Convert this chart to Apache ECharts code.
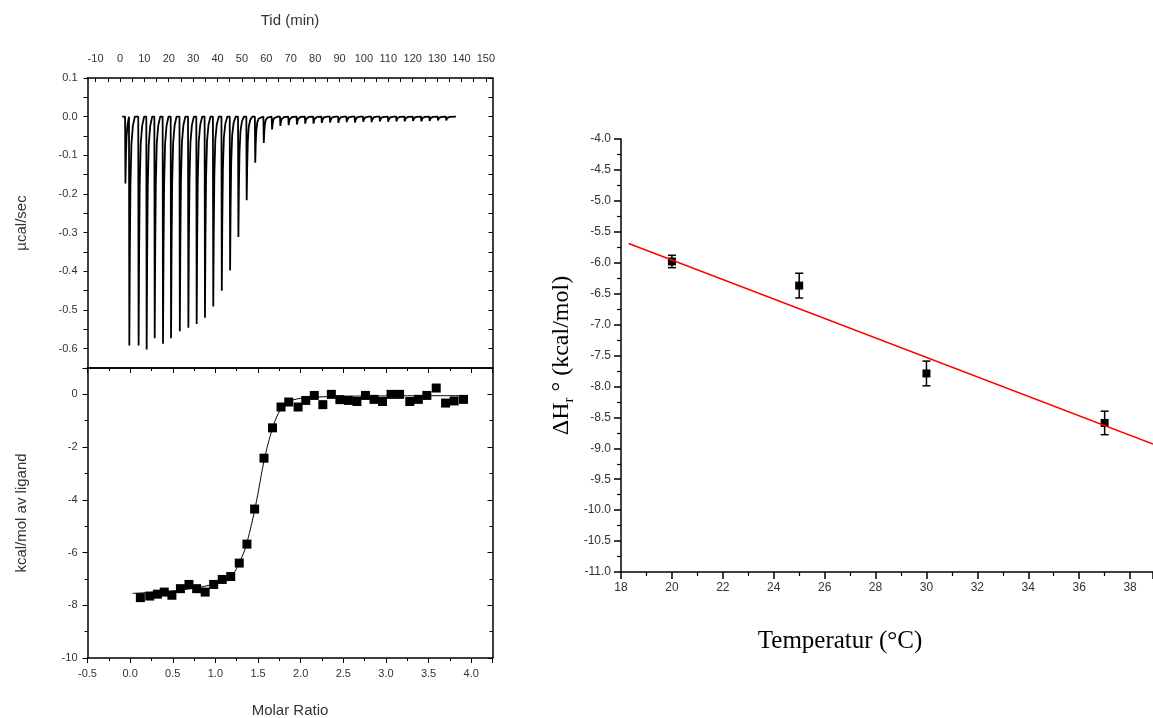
<!DOCTYPE html>
<html>
<head>
<meta charset="utf-8">
<script src="https://cdn.jsdelivr.net/npm/echarts@6/dist/echarts.min.js"></script>
<style>
  html, body { margin: 0; padding: 0; background: #fff; }
  #chart { width: 1153px; height: 718px; }
</style>
</head>
<body>
<div id="chart"></div>
<script>
// ---- raw ITC thermogram (top left) ----
const injTime = [2.1, 3.7, 7.5, 10.8, 14.1, 17.5, 20.8, 24.4, 27.9, 31.3, 34.7, 38.1, 41.6, 45.0, 48.4, 51.8, 55.3, 58.8, 62.2, 65.6,
  69.0, 72.4, 75.8, 79.2, 82.6, 86.0, 89.4, 92.8, 96.2, 99.6, 103.0, 106.4, 109.8, 113.2, 116.6, 120.0, 123.4, 126.8, 130.2, 133.6];
const peakDepth = [-0.173, -0.592, -0.592, -0.602, -0.573, -0.587, -0.573, -0.555, -0.546, -0.536, -0.520, -0.491, -0.450, -0.398, -0.311, -0.216, -0.119, -0.068, -0.033, -0.024,
  -0.022, -0.020, -0.018, -0.018, -0.016, -0.015, -0.016, -0.014, -0.015, -0.013, -0.014, -0.012, -0.013, -0.012, -0.012, -0.011, -0.012, -0.011, -0.010, -0.010];
// shape of one peak: minutes after injection / fraction of the peak depth
const decayOffset = [0, 0.15, 0.35, 0.6, 1.0, 1.6];
const decayFrac = [0, 1, 0.6, 0.3, 0.12, 0.04];
const traceStart = 0.9, traceEnd = 137.7;

// ---- integrated heats (bottom left) ----
const molarRatio = [0.12, 0.23, 0.32, 0.40, 0.49, 0.59, 0.69, 0.78, 0.88, 0.98, 1.08, 1.18, 1.28, 1.37, 1.46, 1.57, 1.67, 1.77, 1.86, 1.97,
  2.06, 2.16, 2.26, 2.36, 2.46, 2.56, 2.66, 2.76, 2.86, 2.96, 3.06, 3.16, 3.28, 3.38, 3.48, 3.59, 3.70, 3.80, 3.91];
const heat = [-7.71, -7.65, -7.58, -7.50, -7.62, -7.37, -7.21, -7.37, -7.50, -7.21, -7.02, -6.91, -6.40, -5.68, -4.35, -2.42, -1.27, -0.48, -0.29, -0.48,
  -0.23, -0.04, -0.39, 0.0, -0.20, -0.23, -0.27, -0.04, -0.19, -0.27, 0.0, 0.0, -0.27, -0.19, -0.04, 0.24, -0.33, -0.25, -0.19];
const fitRatio = [0.03, 0.2, 0.4, 0.6, 0.8, 1.0, 1.1, 1.2, 1.25, 1.3, 1.35, 1.4, 1.45, 1.5, 1.55, 1.6, 1.65, 1.7, 1.75, 1.8, 1.85, 1.9, 2.0, 2.2, 2.5, 3.0, 3.5, 3.93];
const fitHeat = [-7.55, -7.52, -7.48, -7.42, -7.33, -7.18, -7.05, -6.85, -6.6, -6.25, -5.85, -5.25, -4.55, -3.75, -2.85, -2.1, -1.5, -1.0, -0.65, -0.42, -0.3, -0.22, -0.15, -0.1, -0.07, -0.06, -0.05, -0.05];

// ---- enthalpy vs temperature (right) ----
const temps = [20, 25, 30, 37];
const dH = [-5.98, -6.37, -7.79, -8.59];
const dHerr = [0.1, 0.2, 0.2, 0.19];
const lineT = [18.3, 38.9];
const lineDH = [-5.69, -8.93];

const timeLabels = [-10, 0, 10, 20, 30, 40, 50, 60, 70, 80, 90, 100, 110, 120, 130, 140, 150];
const timeTicks = [-10, -5, 0, 5, 10, 15, 20, 25, 30, 35, 40, 45, 50, 55, 60, 65, 70, 75, 80, 85, 90, 95, 100, 105, 110, 115, 120, 125, 130, 135, 140, 145, 150];

// build the thermogram polyline
let trace = [[traceStart, 0]];
injTime.forEach((t, i) => {
  const next = i < injTime.length - 1 ? injTime[i + 1] : traceEnd;
  decayOffset.forEach((off, k) => {
    if (t + off < next) trace.push([t + off, peakDepth[i] * decayFrac[k]]);
  });
  if (t + 2.4 < next) trace.push([t + 2.4, 0]);
});
trace.push([traceEnd, 0]);

const labelFont = { color: '#333', fontSize: 11, fontFamily: 'Liberation Sans, Arial' };
const nameFont = { color: '#333', fontSize: 15, fontFamily: 'Liberation Sans, Arial' };
const blackLine = { show: true, onZero: false, lineStyle: { color: '#000', width: 1.5 } };

function frameAxis(extra) {
  return Object.assign({
    type: 'value', axisLine: blackLine, splitLine: { show: false },
    axisTick: { show: false }, axisLabel: { show: false }
  }, extra);
}

let chart = echarts.init(document.getElementById('chart'));
chart.setOption({
  animation: false,
  backgroundColor: '#fff',
  grid: [
    { left: 87.5, top: 78, width: 405, height: 290, outerBoundsMode: 'none' },
    { left: 87.5, top: 368, width: 405, height: 290, outerBoundsMode: 'none' },
    { left: 621, top: 139, width: 532, height: 433, outerBoundsMode: 'none' }
  ],
  xAxis: [
    // 0: time axis on top of upper panel
    frameAxis({
      gridIndex: 0, position: 'top', min: -13.3, max: 152.7,
      name: 'Tid (min)', nameLocation: 'middle', nameGap: 50, nameTextStyle: nameFont,
      axisTick: { show: true, inside: true, length: 4, lineStyle: { color: '#000' }, customValues: timeTicks },
      axisLabel: Object.assign({ show: true, margin: 14, customValues: timeLabels }, labelFont)
    }),
    // 1: bottom edge of upper panel
    frameAxis({ gridIndex: 0, position: 'bottom', min: 0, max: 1 }),
    // 2: molar ratio
    frameAxis({
      gridIndex: 1, position: 'bottom', min: -0.5, max: 4.25, interval: 0.5,
      name: 'Molar Ratio', nameLocation: 'middle', nameGap: 45, nameTextStyle: nameFont,
      axisTick: { show: true, length: 5, lineStyle: { color: '#000' } },
      minorTick: { show: true, splitNumber: 2, length: 3, lineStyle: { color: '#000' } },
      axisLabel: Object.assign({ show: true, margin: 10, showMaxLabel: false, formatter: v => v.toFixed(1) }, labelFont)
    }),
    // 3: top edge of lower panel
    frameAxis({
      gridIndex: 1, position: 'top', min: -0.5, max: 4.25, interval: 0.5,
      axisTick: { show: true, inside: true, length: 5, lineStyle: { color: '#000' } },
      minorTick: { show: true, splitNumber: 2, length: 3, lineStyle: { color: '#000' } }
    }),
    // 4: temperature
    frameAxis({
      gridIndex: 2, position: 'bottom', min: 18, max: 38.9, interval: 2,
      name: '{t|Temperatur (°C)}', nameLocation: 'middle', nameGap: 57,
      nameTextStyle: { padding: [0, 94, 0, 0], rich: { t: { fontSize: 25, fontFamily: 'Liberation Serif, Times New Roman', color: '#000' } } },
      axisTick: { show: true, length: 7, lineStyle: { color: '#000', width: 1.5 } },
      minorTick: { show: true, splitNumber: 2, length: 4, lineStyle: { color: '#000', width: 1.2 } },
      axisLabel: Object.assign({ show: true, margin: 10, showMaxLabel: false }, labelFont, { fontSize: 12 })
    })
  ],
  yAxis: [
    // 0: µcal/sec
    frameAxis({
      gridIndex: 0, position: 'left', min: -0.65, max: 0.1, interval: 0.05,
      name: 'µcal/sec', nameLocation: 'middle', nameGap: 58, nameTextStyle: nameFont,
      axisTick: { show: true, length: 4, lineStyle: { color: '#000' } },
      axisLabel: Object.assign({
        show: true, margin: 10,
        formatter: v => Math.round(v * 100) % 10 === 0 ? (Math.abs(v) < 1e-9 ? 0 : v).toFixed(1) : ''
      }, labelFont)
    }),
    // 1: right edge of upper panel
    frameAxis({
      gridIndex: 0, position: 'right', min: -0.65, max: 0.1, interval: 0.05,
      axisTick: { show: true, inside: true, length: 4, lineStyle: { color: '#000' } }
    }),
    // 2: kcal/mol
    frameAxis({
      gridIndex: 1, position: 'left', min: -10, max: 1, interval: 2,
      name: 'kcal/mol av ligand', nameLocation: 'middle', nameGap: 58, nameTextStyle: nameFont,
      axisTick: { show: true, length: 5, lineStyle: { color: '#000' } },
      minorTick: { show: true, splitNumber: 2, length: 3, lineStyle: { color: '#000' } },
      axisLabel: Object.assign({ show: true, margin: 10, showMaxLabel: false }, labelFont)
    }),
    // 3: right edge of lower panel
    frameAxis({
      gridIndex: 1, position: 'right', min: -10, max: 1, interval: 2,
      axisTick: { show: true, inside: true, length: 5, lineStyle: { color: '#000' } },
      minorTick: { show: true, splitNumber: 2, length: 3, lineStyle: { color: '#000' } }
    }),
    // 4: enthalpy
    frameAxis({
      gridIndex: 2, position: 'left', min: -11, max: -4, interval: 0.5,
      name: '{n|ΔH}{s|r}{n| ° (kcal/mol)}', nameLocation: 'middle', nameGap: 44,
      nameTextStyle: {
        rich: {
          n: { fontSize: 24, fontFamily: 'Liberation Serif, Times New Roman', color: '#000', lineHeight: 30 },
          s: { fontSize: 15, fontFamily: 'Liberation Serif, Times New Roman', color: '#000', lineHeight: 30, verticalAlign: 'bottom', padding: [12, 0, 0, 0] }
        }
      },
      axisTick: { show: true, length: 7, lineStyle: { color: '#000', width: 1.5 } },
      minorTick: { show: true, splitNumber: 2, length: 4, lineStyle: { color: '#000', width: 1.2 } },
      axisLabel: Object.assign({ show: true, margin: 10, formatter: v => v.toFixed(1) }, labelFont, { fontSize: 12 })
    })
  ],
  series: [
    {
      type: 'line', xAxisIndex: 0, yAxisIndex: 0, data: trace,
      symbol: 'none', lineStyle: { color: '#000', width: 1.8 }
    },
    {
      type: 'line', xAxisIndex: 2, yAxisIndex: 2, smooth: 0.2,
      data: fitRatio.map((r, i) => [r, fitHeat[i]]),
      symbol: 'none', lineStyle: { color: '#000', width: 1 }
    },
    {
      type: 'scatter', xAxisIndex: 2, yAxisIndex: 2,
      data: molarRatio.map((r, i) => [r, heat[i]]),
      symbol: 'rect', symbolSize: 9, itemStyle: { color: '#000', opacity: 1 }
    },
    {
      type: 'line', xAxisIndex: 4, yAxisIndex: 4,
      data: lineT.map((t, i) => [t, lineDH[i]]),
      symbol: 'none', lineStyle: { color: '#ff0000', width: 1.5 }
    },
    {
      type: 'custom', xAxisIndex: 4, yAxisIndex: 4,
      data: temps.map((t, i) => [t, dH[i], dHerr[i]]),
      renderItem: function (params, api) {
        const x = api.value(0), y = api.value(1), e = api.value(2);
        const top = api.coord([x, y + e]);
        const bot = api.coord([x, y - e]);
        const w = 4;
        const st = { stroke: '#000', lineWidth: 1.5 };
        return {
          type: 'group',
          children: [
            { type: 'line', shape: { x1: top[0], y1: top[1], x2: bot[0], y2: bot[1] }, style: st },
            { type: 'line', shape: { x1: top[0] - w, y1: top[1], x2: top[0] + w, y2: top[1] }, style: st },
            { type: 'line', shape: { x1: bot[0] - w, y1: bot[1], x2: bot[0] + w, y2: bot[1] }, style: st }
          ]
        };
      },
      encode: { x: 0, y: 1 }
    },
    {
      type: 'scatter', xAxisIndex: 4, yAxisIndex: 4,
      data: temps.map((t, i) => [t, dH[i]]),
      symbol: 'rect', symbolSize: 8, itemStyle: { color: '#000', opacity: 1 }
    }
  ]
});
</script>
</body>
</html>
